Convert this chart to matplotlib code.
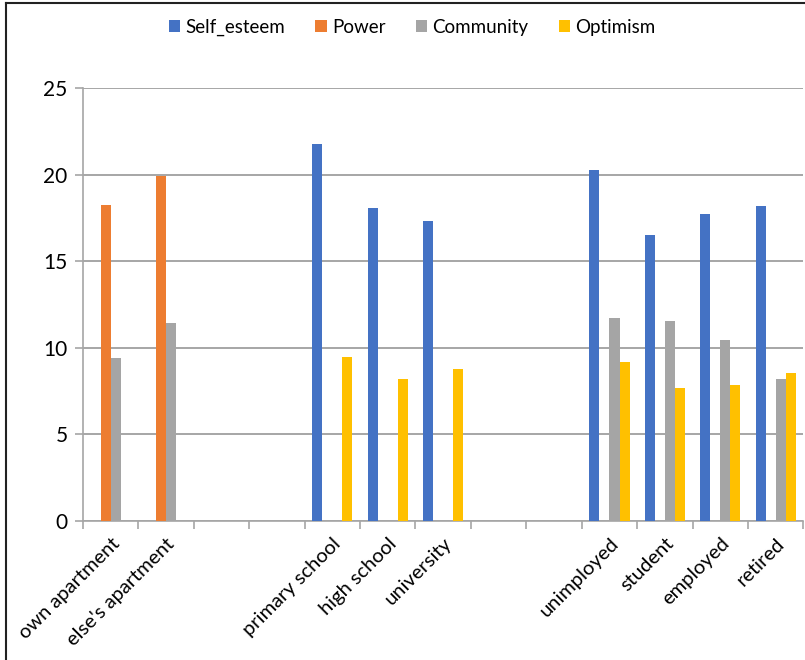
import numpy as np
import matplotlib
matplotlib.use("Agg")
import matplotlib.pyplot as plt
from matplotlib.lines import Line2D

plt.rcParams['font.family'] = ['Lato', 'DejaVu Sans']

# categories (blank slots keep the gaps between groups)
categories = ["own apartment", "else's apartment", "", "",
              "primary school", "high school", "university", "", "",
              "unimployed", "student", "employed", "retired"]

nan = np.nan
self_esteem = [nan, nan, nan, nan, 21.75, 18.08, 17.35, nan, nan, 20.25, 16.5, 17.75, 18.18]
power = [18.23, 19.95, nan, nan, nan, nan, nan, nan, nan, nan, nan, nan, nan]
community = [9.39, 11.41, nan, nan, nan, nan, nan, nan, nan, 11.74, 11.54, 10.44, 8.18]
optimism = [nan, nan, nan, nan, 9.46, 8.18, 8.75, nan, nan, 9.21, 7.7, 7.87, 8.56]

series = [("Self_esteem", self_esteem, "#4472C4"),
          ("Power", power, "#ED7D31"),
          ("Community", community, "#A5A5A5"),
          ("Optimism", optimism, "#FFC000")]

fig = plt.figure(figsize=(8.05, 6.6), dpi=100)
ax = fig.add_axes([0.103, 0.2106, 0.895, 0.656])

x = np.arange(len(categories))
w = 0.182
for i, (name, vals, col) in enumerate(series):
    ax.bar(x + (i - 1.5) * w, np.array(vals, dtype=float), w, color=col, label=name, zorder=3)

ax.set_xlim(-0.5, len(categories) - 0.5)
ax.set_ylim(0, 25)
ax.set_yticks([0, 5, 10, 15, 20, 25])
ax.grid(axis='y', color='#A6A6A6', linewidth=1.4, zorder=0)

ax.set_xticks(x)
ax.set_xticklabels(categories, rotation=45, ha='right', rotation_mode='anchor', fontsize=14.5)
ax.tick_params(axis='x', length=0, pad=10)
ax.set_xticks(np.arange(-0.5, len(categories)), minor=True)
ax.tick_params(axis='x', which='minor', length=6, color='#A6A6A6', width=1.2)
ax.tick_params(axis='y', labelsize=15, length=6, color='#A6A6A6', width=1.2, pad=5)

for s in ['top', 'right']:
    ax.spines[s].set_visible(False)
for s in ['left', 'bottom']:
    ax.spines[s].set_color('#A6A6A6')
    ax.spines[s].set_linewidth(1.2)

fig.legend(loc='upper center', bbox_to_anchor=(0.512, 0.997), ncol=4, frameon=False,
           fontsize=13.5, handlelength=0.6, handleheight=0.6, handletextpad=0.3,
           columnspacing=1.6)

# frame lines on left and top of the picture
fig.add_artist(Line2D([0.008, 0.008], [0, 0.996], transform=fig.transFigure, color='#222222', lw=1.5))
fig.add_artist(Line2D([0.008, 1.0], [0.996, 0.996], transform=fig.transFigure, color='#222222', lw=1.5))

fig.savefig("out.png", dpi=100)
